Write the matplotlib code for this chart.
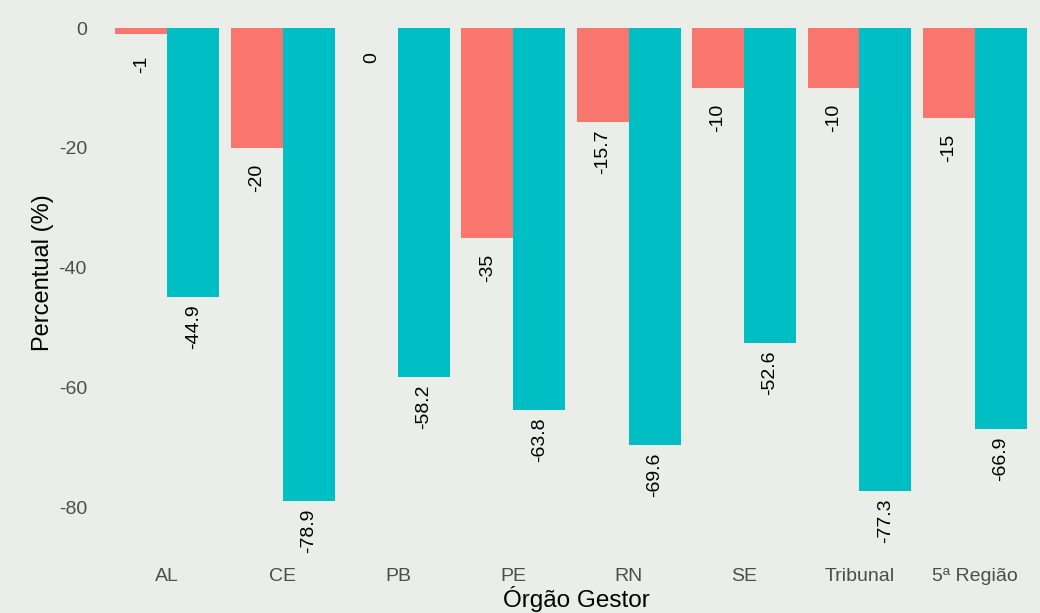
import matplotlib
matplotlib.use("Agg")
import matplotlib.pyplot as plt
import numpy as np

categories = ["AL", "CE", "PB", "PE", "RN", "SE", "Tribunal", "5ª Região"]
serie_a = [-1, -20, 0, -35, -15.7, -10, -10, -15]
serie_b = [-44.9, -78.9, -58.2, -63.8, -69.6, -52.6, -77.3, -66.9]
y_ticks = [0, -20, -40, -60, -80]

plt.rcParams['font.family'] = ['Liberation Sans', 'DejaVu Sans']

bg = "#ebede9"
fig = plt.figure(figsize=(10.4, 6.13), dpi=100, facecolor=bg)
ax = fig.add_axes([98/1040, 1 - 565/613, 946/1040, (565 - 4.4)/613])
ax.set_facecolor(bg)

x = np.arange(len(categories))
w = 0.45
ax.bar(x - w/2, serie_a, width=w, color="#F8766D", zorder=2)
ax.bar(x + w/2, serie_b, width=w, color="#00BFC4", zorder=2)

off = 5
for xi, v in zip(x - w/2, serie_a):
    ax.text(xi, v - off, f"{v:g}", rotation=90, ha="center", va="center",
            fontsize=14, color="black", zorder=3)
for xi, v in zip(x + w/2, serie_b):
    ax.text(xi, v - off, f"{v:g}", rotation=90, ha="center", va="center",
            fontsize=14, color="black", zorder=3)

ax.set_xlim(-0.6, len(categories) - 0.4)
ax.set_ylim(-89.65, 3.94)
ax.set_xticks(x)
ax.set_xticklabels(categories, fontsize=14, color="#4d4d4d")
ax.set_yticks(y_ticks)
ax.set_yticklabels([str(t) for t in y_ticks], fontsize=14, color="#4d4d4d")
ax.tick_params(axis="both", length=0)
ax.tick_params(axis="x", pad=2)
ax.tick_params(axis="y", pad=8)
for s in ax.spines.values():
    s.set_visible(False)

ax.set_ylabel("Percentual (%)", fontsize=17, color="black")
ax.yaxis.set_label_coords((54 - 98) / 946, 1 - (273 - 4.4) / 560.6)
ax.set_xlabel("Órgão Gestor", fontsize=17.5, color="black")
ax.xaxis.set_label_coords((576 - 98) / 946, (565 - 586) / 560.6)

fig.savefig("out.png", dpi=100, facecolor=bg)
